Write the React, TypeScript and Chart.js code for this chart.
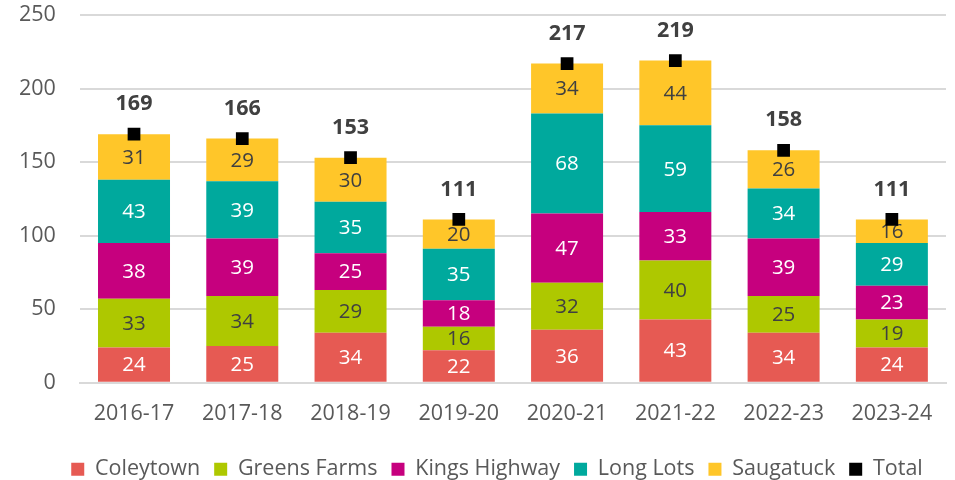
import React, { useEffect, useRef } from 'react';
import { Chart, registerables } from 'chart.js';

Chart.register(...registerables);

const categories = ['2016-17', '2017-18', '2018-19', '2019-20', '2020-21', '2021-22', '2022-23', '2023-24'];
const coleytown = [24, 25, 34, 22, 36, 43, 34, 24];
const greensFarms = [33, 34, 29, 16, 32, 40, 25, 19];
const kingsHighway = [38, 39, 25, 18, 47, 33, 39, 23];
const longLots = [43, 39, 35, 35, 68, 59, 34, 29];
const saugatuck = [31, 29, 30, 20, 34, 44, 26, 16];
const totals = [169, 166, 153, 111, 217, 219, 158, 111];
const yMin = 0;
const yMax = 250;
const yStep = 50;

const FONT = '"Open Sans", "Noto Sans", sans-serif';

const labelPlugin = {
  id: 'valueLabels',
  afterLayout(chart: any) {
    if (chart.legend) {
      chart.legend.left += 17;
      chart.legend.right += 17;
    }
  },
  afterDatasetDraw(chart: any, args: any) {
    const ds: any = chart.data.datasets[args.index];
    const meta = args.meta;
    const ctx = chart.ctx;
    ctx.save();
    ctx.textAlign = 'center';
    ctx.textBaseline = 'middle';
    meta.data.forEach((el: any, j: number) => {
      const v = ds.data[j];
      if (ds.type === 'line') {
        ctx.font = `bold 21.5px ${FONT}`;
        ctx.fillStyle = '#404040';
        ctx.fillText(String(v), el.x, el.y - 30);
      } else {
        const p = el.getProps(['x', 'y', 'base'], true);
        ctx.font = `20.5px ${FONT}`;
        ctx.fillStyle = ds.labelColor;
        ctx.fillText(String(v), p.x, (p.y + p.base) / 2 + 1);
      }
    });
    ctx.restore();
  },
};

export default function App() {
  const ref = useRef<HTMLCanvasElement | null>(null);
  useEffect(() => {
    document.body.style.margin = '0';
    if (!ref.current) return;
    const bar = (label: string, data: number[], color: string, labelColor: string) => ({
      type: 'bar' as const,
      label,
      data,
      backgroundColor: color,
      borderWidth: 0,
      barPercentage: 0.665,
      categoryPercentage: 1,
      labelColor,
      order: 1,
    });
    const chart = new Chart(ref.current, {
      type: 'bar',
      data: {
        labels: categories,
        datasets: [
          bar('Coleytown', coleytown, '#E65A53', '#ffffff'),
          bar('Greens Farms', greensFarms, '#AEC800', '#404040'),
          bar('Kings Highway', kingsHighway, '#C6007E', '#ffffff'),
          bar('Long Lots', longLots, '#00A99D', '#ffffff'),
          bar('Saugatuck', saugatuck, '#FFC629', '#404040'),
          {
            type: 'line' as const,
            label: 'Total',
            data: totals,
            showLine: false,
            pointStyle: 'rect',
            pointRadius: 9,
            pointBorderWidth: 0,
            backgroundColor: '#000000',
            borderColor: '#000000',
            borderWidth: 0,
            order: -1,
          } as any,
        ],
      },
      options: {
        animation: false,
        responsive: true,
        maintainAspectRatio: false,
        events: [],
        layout: { padding: { left: -5, right: -10, top: 15, bottom: -10 } },
        scales: {
          x: {
            stacked: true,
            grid: { display: false, drawTicks: false },
            border: { color: '#d9d9d9', width: 2 },
            ticks: { font: { family: FONT, size: 21.5 }, color: '#595959', padding: 18 },
          },
          y: {
            stacked: true,
            min: yMin,
            max: yMax,
            grid: { color: '#d9d9d9', lineWidth: 2, drawTicks: false },
            border: { display: false },
            ticks: { stepSize: yStep, font: { family: FONT, size: 21.5 }, color: '#595959', padding: 24 },
            afterFit: (scale: any) => {
              scale.paddingTop = 0;
              scale.paddingBottom = 0;
            },
          },
        },
        plugins: {
          tooltip: { enabled: false },
          legend: {
            position: 'bottom',
            labels: {
              font: { family: FONT, size: 21.5 },
              color: '#595959',
              boxWidth: 13,
              boxHeight: 13,
              padding: 14,
              sort: (a: any, b: any) => a.datasetIndex - b.datasetIndex,
            },
          },
        },
      },
      plugins: [labelPlugin],
    } as any);
    return () => chart.destroy();
  }, []);
  return (
    <div style={{ position: 'relative', width: 955, height: 480 }}>
      <canvas ref={ref} />
    </div>
  );
}
